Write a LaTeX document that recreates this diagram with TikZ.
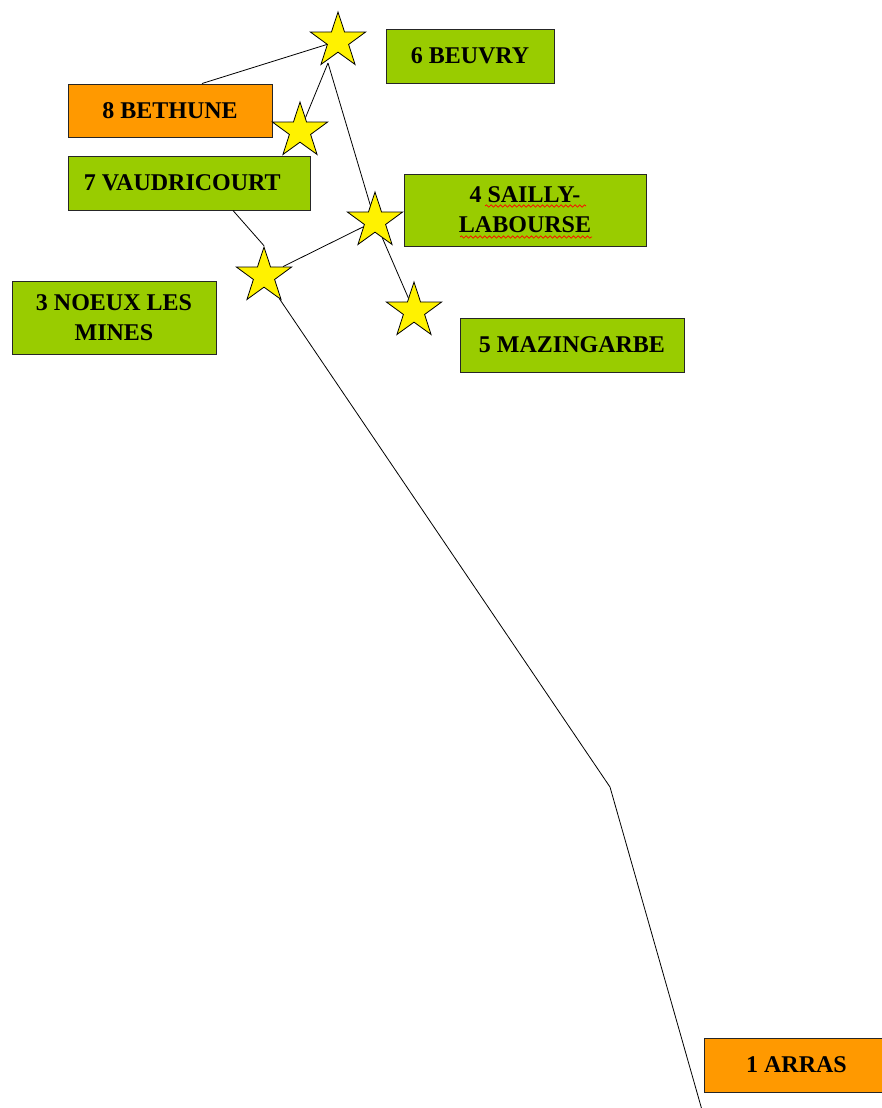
\documentclass[tikz,border=0pt]{standalone}
\usepackage{fontspec}
\setmainfont{Liberation Serif}
\usetikzlibrary{shapes.geometric,calc,decorations.pathmorphing}
\definecolor{townGreen}{HTML}{99CC00}
\definecolor{townOrange}{HTML}{FF9900}

\begin{document}
\begin{tikzpicture}[x=0.75pt,y=-0.75pt,
	town/.style={draw=black!85,line width=0.75pt,inner sep=0pt,align=center,
		font=\fontsize{18}{22.5}\selectfont\bfseries},
	green town/.style={town,fill=townGreen},
	orange town/.style={town,fill=townOrange},
	halt/.style={star,star points=5,star point ratio=2.6,minimum size=43.5pt,
		inner sep=0pt,draw=black,line width=0.6pt,fill=yellow},
	spell/.style={draw=red,line width=0.5pt,decorate,
		decoration={snake,amplitude=0.9pt,segment length=3.5pt}}]
	   \clip (0,0) rectangle (882,1108);
	   % towns
	   \node[green town,minimum width=126pt,minimum height=40.5pt] (beuvry) at (470,56) {6 BEUVRY};
	   \node[orange town,minimum width=153pt,minimum height=39.75pt] (bethune) at (170,110.5) {8 BETHUNE};
	   \node[green town,minimum width=181.5pt,minimum height=40.5pt] (vaud) at (189,183) {7 VAUDRICOURT\hspace{10pt}};
	   \node[green town,minimum width=181.5pt,minimum height=54pt] (sailly) at (525,210) {4 SAILLY-\\LABOURSE};
	   \node[green town,minimum width=153pt,minimum height=54.75pt] (noeux) at (114,317.5) {3 NOEUX LES\\MINES};
	   \node[green town,minimum width=168pt,minimum height=40.5pt] (mazin) at (572,345) {5 MAZINGARBE};
	   \node[orange town,minimum width=138.75pt,minimum height=40.5pt] (arras) at (796.5,1065) {1 ARRAS};
	   % stations
	   \node[halt] (s_6) at (338,41) {};
	   \node[halt] (s_8) at (300,131) {};
	   \node[halt] (s_4) at (375,221) {};
	   \node[halt] (s_3) at (264,276) {};
	   \node[halt] (s_5) at (414,311) {};
	   \coordinate (s_6j) at (328,63);
	   \coordinate (bend) at (610,787);
	   \coordinate (south) at (702,1110);
	   % line
	    \path[draw,line width=0.6pt]
	    ($(bethune.north)+(32,0)$) edge (s_6)
	    (s_6j) edge (s_8)
	           edge (s_4)
	    (s_4) edge (s_5)
	    (s_3) edge (s_4)
	    ($(vaud.south)+(44,0)$) edge (s_3.north);
	    \draw[line width=0.6pt] (s_3) -- (bend) -- (south);
	   % spell check marks
	    \draw[spell] ($(sailly.center)+(-40,-4)$) -- ++(101,0);
	    \draw[spell] ($(sailly.center)+(-65,27)$) -- ++(132,0);
	\end{tikzpicture}
\end{document}
